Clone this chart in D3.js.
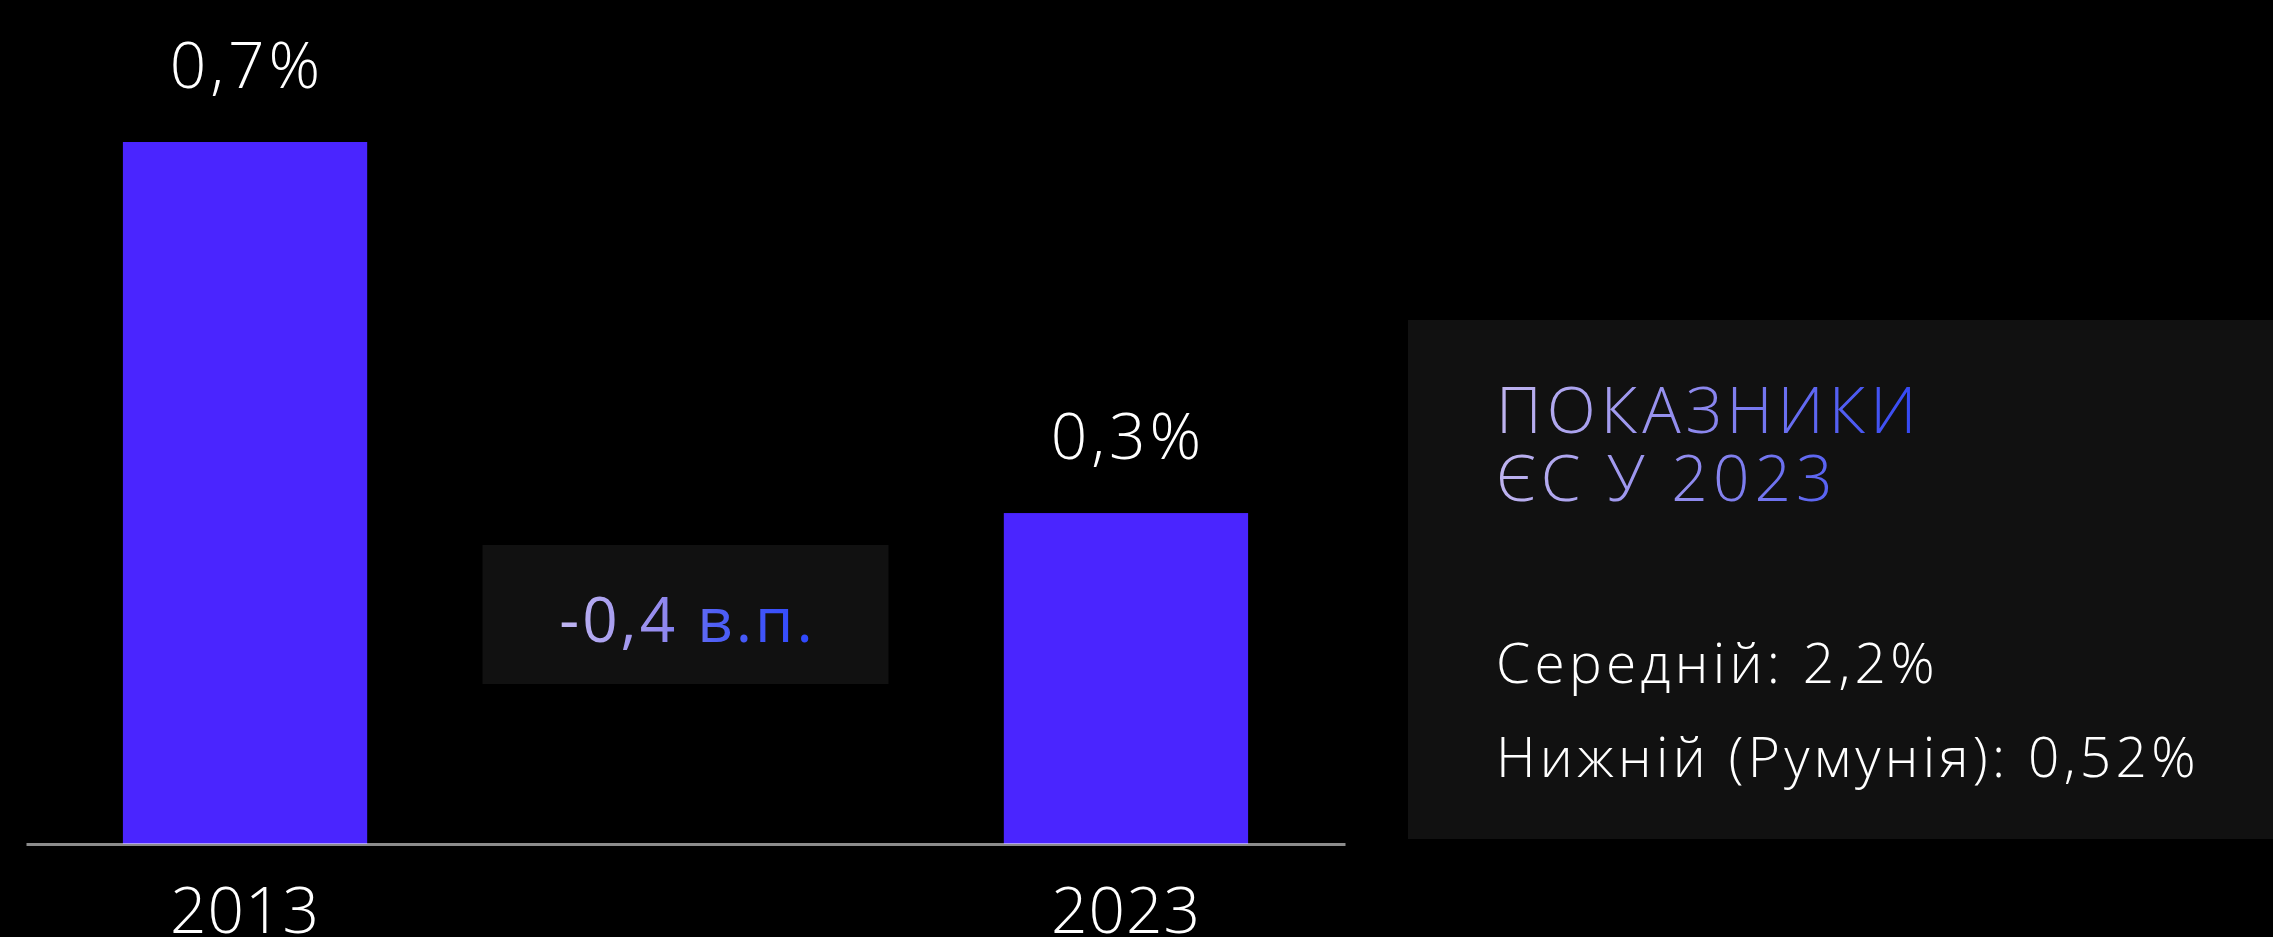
<!DOCTYPE html>
<html>
<head>
<meta charset="utf-8">
<script src="https://cdn.jsdelivr.net/npm/d3@7"></script>
<style>
  html, body { margin: 0; padding: 0; background: #000; overflow: hidden; }
  text { font-family: "Open Sans", Roboto, sans-serif; font-weight: 300; }
</style>
</head>
<body>
<div id="chart"></div>
<script>
var years = ["2013", "2023"];
var shares = [0.7, 0.33];
var change = -0.4;
var euTitle = ["ПОКАЗНИКИ", "ЄС У 2023"];
var euLabels = ["Середній", "Нижній (Румунія)"];
var euValues = [2.2, 0.52];

var svgWidth = 2273;
var svgHeight = 937;

var svg = d3.select("#chart")
  .append("svg")
  .attr("width", svgWidth)
  .attr("height", svgHeight);

var baseY = 844;
var topY = 142;

var x = d3.scaleBand()
  .domain(years)
  .range([26, 1345])
  .paddingInner(0.7227)
  .paddingOuter(0.11);

var y = d3.scaleLinear()
  .domain([0, 0.7])
  .range([baseY, topY]);

// decimal comma, plain hyphen for minus
var uaLocale = d3.formatLocale({decimal: ",", thousands: " ", grouping: [3], currency: ["", ""], minus: "-"});
function comma(v, f) {
  return uaLocale.format(f)(v);
}

var defs = svg.append("defs");

function grad(id, x1, x2, stops) {
  var g = defs.append("linearGradient")
    .attr("id", id)
    .attr("gradientUnits", "userSpaceOnUse")
    .attr("x1", x1).attr("x2", x2)
    .attr("y1", 0).attr("y2", 0);
  stops.forEach(function(s) {
    g.append("stop").attr("offset", s[0]).attr("stop-color", s[1]);
  });
}

grad("chgGrad", 551, 823, [[0, "#c4baf2"], [0.4, "#958bee"], [0.6, "#5060f5"], [1, "#2a45ff"]]);
grad("titleGrad", 1496, 1925, [[0, "#bfb4ef"], [0.5, "#8a86ee"], [1, "#2f45f5"]]);

// bars
svg.selectAll("rect.bar")
  .data(years)
  .enter()
  .append("rect")
  .attr("class", "bar")
  .attr("x", d => x(d))
  .attr("width", x.bandwidth())
  .attr("y", (d, i) => y(shares[i]))
  .attr("height", (d, i) => baseY - y(shares[i]))
  .attr("fill", "#4a25ff");

// value labels
svg.selectAll("text.val")
  .data(years)
  .enter()
  .append("text")
  .attr("class", "val")
  .attr("x", d => x(d) + x.bandwidth() / 2 + 2)
  .attr("y", (d, i) => y(shares[i]) - 54)
  .attr("text-anchor", "middle")
  .attr("fill", "#fff")
  .style("font-size", "64px")
  .style("letter-spacing", "4px")
  .text((d, i) => comma(shares[i], ".1f") + "%");

// x axis
var xAxis = svg.append("g")
  .attr("transform", `translate(0, ${baseY})`)
  .call(d3.axisBottom(x).tickSize(0).tickSizeOuter(0).tickPadding(44));

xAxis.select(".domain")
  .attr("stroke", "rgba(255,255,255,0.55)")
  .attr("stroke-width", 3);

xAxis.selectAll("text")
  .attr("fill", "#fff")
  .style("font-size", "64px")
  .style("letter-spacing", "1px");

// change box
var chgX = (x(years[0]) + x.bandwidth() + x(years[1])) / 2;
svg.append("rect")
  .attr("x", chgX - 203)
  .attr("y", 545)
  .attr("width", 406)
  .attr("height", 139)
  .attr("fill", "#111111");

svg.append("text")
  .attr("x", chgX + 2)
  .attr("y", 642)
  .attr("text-anchor", "middle")
  .attr("fill", "url(#chgGrad)")
  .style("font-size", "62px")
  .style("font-weight", 400)
  .style("letter-spacing", "3px")
  .text(comma(change, ".1f") + " в.п.");

// EU panel
svg.append("rect")
  .attr("x", 1408)
  .attr("y", 320)
  .attr("width", 865)
  .attr("height", 519)
  .attr("fill", "#111111");

svg.selectAll("text.title")
  .data(euTitle)
  .enter()
  .append("text")
  .attr("class", "title")
  .attr("x", 1496)
  .attr("y", (d, i) => 433 + i * 68)
  .attr("fill", "url(#titleGrad)")
  .style("font-size", "64px")
  .style("letter-spacing", "5px")
  .text(d => d);

svg.selectAll("text.stat")
  .data(euLabels)
  .enter()
  .append("text")
  .attr("class", "stat")
  .attr("x", 1496)
  .attr("y", (d, i) => 683 + i * 94)
  .attr("fill", "#fff")
  .style("font-size", "55px")
  .style("letter-spacing", "4.3px")
  .text((d, i) => d + ": " + comma(euValues[i], i == 0 ? ".1f" : ".2f") + "%");
</script>
</body>
</html>
